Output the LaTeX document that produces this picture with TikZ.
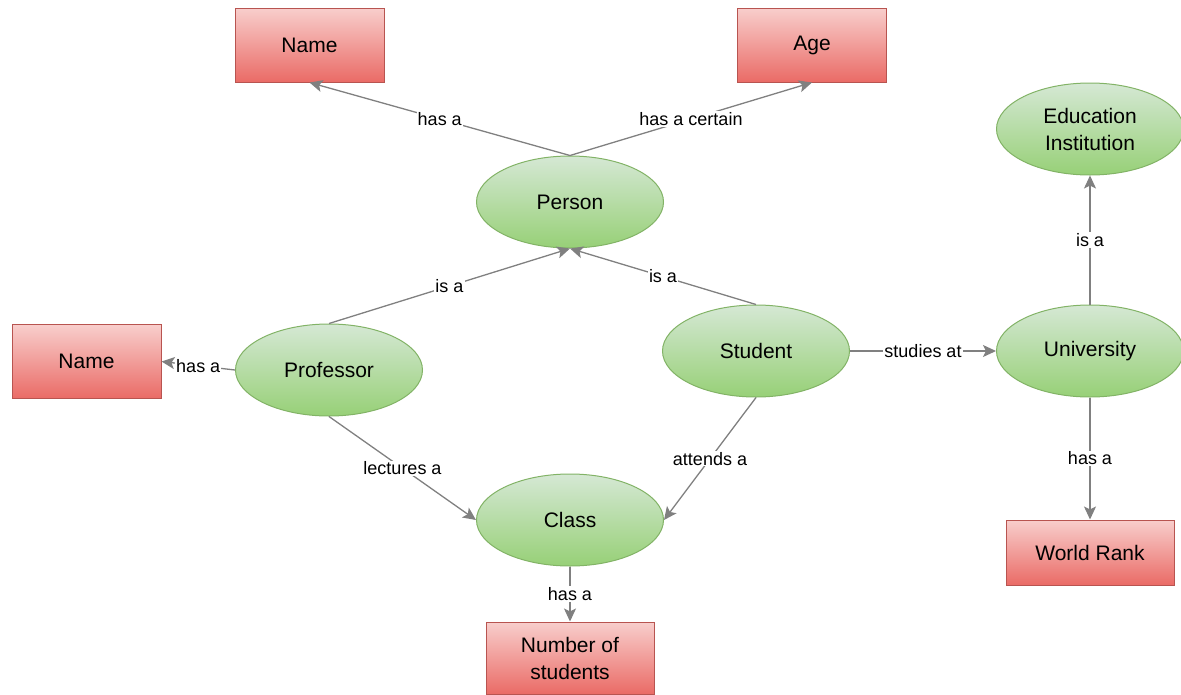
\documentclass[tikz,border=0pt]{standalone}
\usepackage{fontspec}
\setmainfont{Liberation Sans}
\usetikzlibrary{shapes.geometric,arrows.meta}
\definecolor{rtop}{HTML}{F8CECC}
\definecolor{rbot}{HTML}{EA6B66}
\definecolor{rborder}{HTML}{B85450}
\definecolor{gtop}{HTML}{D5E8D4}
\definecolor{gbot}{HTML}{97D077}
\definecolor{gborder}{HTML}{82B366}
\definecolor{edgegray}{HTML}{808080}
\begin{document}
\begin{tikzpicture}[x=1pt,y=-1pt,
  attr/.style={rectangle, draw=rborder, top color=rtop, bottom color=rbot, line width=1pt,
    minimum width=149pt, minimum height=74pt, inner sep=0pt, align=center,
    font=\fontsize{21}{27}\selectfont},
  concept/.style={ellipse, draw=gborder, top color=gtop, bottom color=gbot, line width=1pt,
    minimum width=187pt, minimum height=92pt, inner sep=0pt, align=center,
    font=\fontsize{21}{27}\selectfont},
  rel/.style={draw=edgegray, line width=1.3pt, -{Stealth[length=13pt,width=12pt,inset=3pt]}},
  lbl/.style={fill=white, inner sep=1pt, font=\fontsize{18}{20}\selectfont, text=black}]
\useasboundingbox (0,0) rectangle (1181,694);
\node[attr] (name1) at (309.5,45) {Name};
\node[attr] (age) at (812,45) {Age};
\node[concept] (person) at (570,202) {Person};
\node[concept] (edu) at (1090,129) {Education\\Institution};
\node[attr] (name2) at (86.5,361.5) {Name};
\node[concept] (prof) at (329,370) {Professor};
\node[concept] (student) at (756,351) {Student};
\node[concept] (uni) at (1090,351) {University};
\node[concept] (class) at (570,520) {Class};
\node[attr, minimum width=168pt, minimum height=72pt] (num) at (570,658) {Number of\\students};
\node[attr, minimum width=168pt, minimum height=65pt] (rank) at (1090,552.5) {World Rank};

\draw[rel] (person.north) -- node[lbl] {has a} (name1.south);
\draw[rel] (person.north) -- node[lbl] {has a certain} (age.south);
\draw[rel] (prof.north) -- node[lbl] {is a} (person.south);
\draw[rel] (student.north) -- node[lbl] {is a} (person.south);
\draw[rel] (prof.west) -- node[lbl] {has a} (name2.east);
\draw[rel] (prof.south) -- node[lbl] {lectures a} (class.west);
\draw[rel] (student.south) -- node[lbl] {attends a} (class.east);
\draw[rel] (student.east) -- node[lbl] {studies at} (uni.west);
\draw[rel] (uni.north) -- node[lbl] {is a} (edu.south);
\draw[rel] (uni.south) -- node[lbl] {has a} (rank.north);
\draw[rel] (class.south) -- node[lbl] {has a} (num.north);
\end{tikzpicture}
\end{document}
